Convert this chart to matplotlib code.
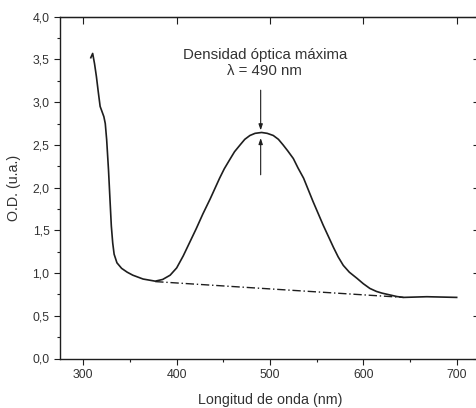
import numpy as np
import matplotlib
matplotlib.use("Agg")
import matplotlib.pyplot as plt
from matplotlib.ticker import MultipleLocator, FuncFormatter

plt.rcParams["font.family"] = ["Liberation Sans", "DejaVu Sans"]

# absorbance spectrum
wavelength = [308, 310, 312, 314, 316, 318, 320, 322, 323.5, 325, 327, 328.6,
              330, 331.5, 333, 336, 341, 347, 353, 364, 377, 385, 393,
              400, 407, 414, 421, 428, 436, 441, 446, 451, 457, 462, 468,
              473, 478.5, 484, 491, 497, 503.5, 509, 514, 519, 525, 530,
              536, 546, 557, 568, 573, 578.5, 585, 593, 600, 607, 614, 620,
              628, 636, 643, 668, 700]
od = [3.52, 3.57, 3.45, 3.30, 3.12, 2.95, 2.89, 2.83, 2.75, 2.56, 2.20, 1.85,
      1.55, 1.35, 1.22, 1.12, 1.055, 1.01, 0.975, 0.93, 0.905, 0.925, 0.975,
      1.06, 1.20, 1.36, 1.52, 1.69, 1.87, 1.99, 2.11, 2.22, 2.33, 2.42, 2.50,
      2.565, 2.61, 2.635, 2.645, 2.635, 2.61, 2.565, 2.50, 2.43, 2.34, 2.23,
      2.11, 1.84, 1.56, 1.30, 1.19, 1.09, 1.01, 0.94, 0.875, 0.82, 0.785, 0.765,
      0.745, 0.725, 0.715, 0.723, 0.715]

# baseline (dash-dot)
base_wl = [377, 643]
base_od = [0.90, 0.715]

peak_wl = 490
arrow_top = [3.14, 2.67]
arrow_bottom = [2.15, 2.58]

ink = "#1e1e1e"
txt = "#333333"

fig = plt.figure(figsize=(4.76, 4.08), dpi=100)
ax = fig.add_axes([60 / 476, 1 - 358.5 / 408, 420 / 476, (358.5 - 16.7) / 408])

ax.plot(wavelength, od, color=ink, lw=1.2)
ax.plot(base_wl, base_od, color=ink, lw=1.0, dashes=(6, 2, 1, 2))

arrow_kw = dict(arrowstyle="-|>,head_length=0.35,head_width=0.12", color=ink, lw=0.8,
                shrinkA=0, shrinkB=0)
ax.annotate("", xy=(peak_wl, arrow_top[1]), xytext=(peak_wl, arrow_top[0]), arrowprops=arrow_kw)
ax.annotate("", xy=(peak_wl, arrow_bottom[1]), xytext=(peak_wl, arrow_bottom[0]), arrowprops=arrow_kw)

ax.text(494.5, 3.46, "Densidad óptica máxima\nλ = 490 nm", ha="center", va="center",
        fontsize=10.8, color=txt, linespacing=1.15)

ax.set_xlim(275, 725)
ax.set_ylim(0, 4)
ax.xaxis.set_major_locator(MultipleLocator(100))
ax.xaxis.set_minor_locator(MultipleLocator(50))
ax.yaxis.set_major_locator(MultipleLocator(0.5))
ax.yaxis.set_minor_locator(MultipleLocator(0.25))
ax.yaxis.set_major_formatter(FuncFormatter(lambda v, p: f"{v:.1f}".replace(".", ",")))

ax.tick_params(which="major", direction="out", length=4, width=0.8, colors=ink,
               labelsize=8.8, labelcolor=txt)
ax.tick_params(which="minor", direction="out", length=2.5, width=0.8, colors=ink)
for s in ax.spines.values():
    s.set_color(ink)
    s.set_linewidth(1.0)

# inward ticks on top and right
top = ax.secondary_xaxis("top")
top.xaxis.set_major_locator(MultipleLocator(100))
top.tick_params(direction="in", length=5, width=0.8, colors=ink, labeltop=False)
right = ax.secondary_yaxis("right")
right.yaxis.set_major_locator(MultipleLocator(0.5))
right.tick_params(direction="in", length=5, width=0.8, colors=ink, labelright=False)

ax.set_xlabel("Longitud de onda (nm)", fontsize=10.3, color=txt, labelpad=9)
ax.set_ylabel("O.D. (u.a.)", fontsize=10.3, color=txt, labelpad=8)

fig.savefig("out.png", dpi=100)
